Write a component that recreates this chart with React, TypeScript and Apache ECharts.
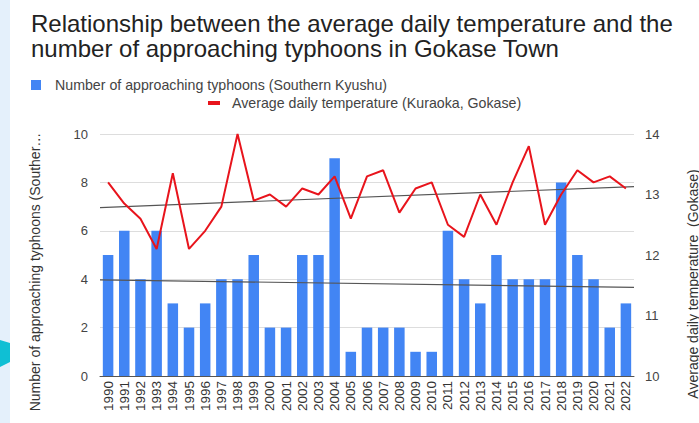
import React, { useEffect, useRef } from "react";
import * as echarts from "echarts";

const years = [
  "1990", "1991", "1992", "1993", "1994", "1995", "1996", "1997", "1998", "1999",
  "2000", "2001", "2002", "2003", "2004", "2005", "2006", "2007", "2008", "2009",
  "2010", "2011", "2012", "2013", "2014", "2015", "2016", "2017", "2018", "2019",
  "2020", "2021", "2022",
];

const typhoons = [
  5, 6, 4, 6, 3, 2, 3, 4, 4, 5,
  2, 2, 5, 5, 9, 1, 2, 2, 2, 1,
  1, 6, 4, 3, 5, 4, 4, 4, 8, 5,
  4, 2, 3,
];

const temperatures = [
  13.2, 12.85, 12.6, 12.1, 13.35, 12.1, 12.4, 12.8, 14.0, 12.9,
  13.0, 12.8, 13.1, 13.0, 13.3, 12.6, 13.3, 13.4, 12.7, 13.1,
  13.2, 12.5, 12.3, 13.0, 12.5, 13.2, 13.8, 12.5, 13.0, 13.4,
  13.2, 13.3, 13.1,
];

const leftTicks = { min: 0, max: 10, interval: 2 };
const rightTicks = { min: 10, max: 14, interval: 1 };

const TITLE =
  "Relationship between the average daily temperature and the\nnumber of approaching typhoons in Gokase Town";
const BAR_NAME = "Number of approaching typhoons (Southern Kyushu)";
const LINE_NAME = "Average daily temperature (Kuraoka, Gokase)";
const LEFT_AXIS_NAME = "Number of approaching typhoons (Souther\u2026";
const RIGHT_AXIS_NAME = "Average daily temperature  (Gokase)";

function trend(values: number[]): number[][] {
  const n = values.length;
  let sx = 0, sy = 0, sxx = 0, sxy = 0;
  values.forEach((v, i) => {
    sx += i; sy += v; sxx += i * i; sxy += i * v;
  });
  const b = (n * sxy - sx * sy) / (n * sxx - sx * sx);
  const a = (sy - b * sx) / n;
  const x0 = -0.5;
  const x1 = n - 0.5;
  return [[x0, a + b * x0], [x1, a + b * x1]];
}

const FONT = "Liberation Sans, Arial, sans-serif";

export default function App() {
  const ref = useRef<HTMLDivElement>(null);
  useEffect(() => {
    if (!ref.current) return;
    const chart = echarts.init(ref.current, null, { renderer: "svg" });
    chart.setOption({
      animation: false,
      backgroundColor: "#ffffff",
      textStyle: { fontFamily: FONT },
      title: {
        text: TITLE,
        left: 31,
        top: 11,
        padding: 0,
        textStyle: {
          fontFamily: FONT,
          fontSize: 24,
          fontWeight: "normal",
          color: "#222222",
          lineHeight: 25,
        },
      },
      legend: [
        {
          data: [BAR_NAME],
          left: 31,
          top: 78,
          padding: 0,
          icon: "rect",
          itemWidth: 10,
          itemHeight: 10,
          textStyle: { fontFamily: FONT, fontSize: 14.2, color: "#444444", padding: [0, 0, 0, 9] },
        },
        {
          data: [LINE_NAME],
          left: 208,
          top: 96,
          padding: 0,
          icon: "rect",
          itemWidth: 12,
          itemHeight: 4,
          textStyle: { fontFamily: FONT, fontSize: 14.2, color: "#444444", padding: [0, 0, 0, 7] },
        },
      ],
      grid: { left: 100, right: 65, top: 134, bottom: 47 },
      xAxis: [
        {
          type: "category",
          data: years,
          axisLine: { show: true, lineStyle: { color: "#555555", width: 1 } },
          axisTick: { show: false },
          axisLabel: {
            rotate: 90,
            interval: 0,
            fontSize: 13.5,
            color: "#333333",
            fontFamily: FONT,
            margin: 5,
          },
        },
        { type: "value", min: -0.5, max: years.length - 0.5, show: false },
      ],
      yAxis: [
        {
          type: "value",
          min: leftTicks.min,
          max: leftTicks.max,
          interval: leftTicks.interval,
          axisLine: { show: false },
          axisTick: { show: false },
          axisLabel: { fontSize: 13, color: "#444444", margin: 12, fontFamily: FONT },
          splitLine: { lineStyle: { color: "#dddddd", width: 1 } },
        },
        {
          type: "value",
          min: rightTicks.min,
          max: rightTicks.max,
          interval: rightTicks.interval,
          position: "right",
          axisLine: { show: false },
          axisTick: { show: false },
          axisLabel: { fontSize: 13, color: "#444444", margin: 11, fontFamily: FONT },
          splitLine: { show: false },
        },
      ],
      series: [
        {
          name: BAR_NAME,
          type: "bar",
          xAxisIndex: 0,
          yAxisIndex: 0,
          data: typhoons,
          barCategoryGap: "35%",
          itemStyle: { color: "#4285f4" },
          z: 2,
        },
        {
          name: "bar-trend",
          type: "line",
          xAxisIndex: 1,
          yAxisIndex: 0,
          data: trend(typhoons),
          symbol: "none",
          lineStyle: { color: "#555555", width: 1.2 },
          z: 3,
        },
        {
          name: "temp-trend",
          type: "line",
          xAxisIndex: 1,
          yAxisIndex: 1,
          data: trend(temperatures),
          symbol: "none",
          lineStyle: { color: "#555555", width: 1.2 },
          z: 3,
        },
        {
          name: LINE_NAME,
          type: "line",
          xAxisIndex: 0,
          yAxisIndex: 1,
          data: temperatures,
          symbol: "none",
          itemStyle: { color: "#e8141c" },
          lineStyle: { color: "#e8141c", width: 2 },
          z: 4,
        },
      ],
      graphic: [
        {
          type: "rect",
          shape: { x: 0, y: 0, width: 10, height: 423 },
          style: { fill: "#e4f0fb" },
          z: -10,
        },
        {
          type: "polygon",
          shape: { points: [[0, 340], [10, 343], [10, 362], [0, 367]] },
          style: { fill: "#0fbfd4" },
          z: -9,
        },
        {
          type: "text",
          x: 35,
          y: 272,
          rotation: Math.PI / 2,
          style: {
            text: LEFT_AXIS_NAME,
            fontSize: 14,
            fontFamily: FONT,
            fill: "#333333",
            align: "center",
            verticalAlign: "middle",
          },
        },
        {
          type: "text",
          x: 693,
          y: 284,
          rotation: Math.PI / 2,
          style: {
            text: RIGHT_AXIS_NAME,
            fontSize: 14,
            fontFamily: FONT,
            fill: "#333333",
            align: "center",
            verticalAlign: "middle",
          },
        },
      ],
    });
    return () => chart.dispose();
  }, []);
  return (
    <div
      ref={ref}
      style={{ position: "fixed", left: 0, top: 0, width: 699, height: 423 }}
    />
  );
}
